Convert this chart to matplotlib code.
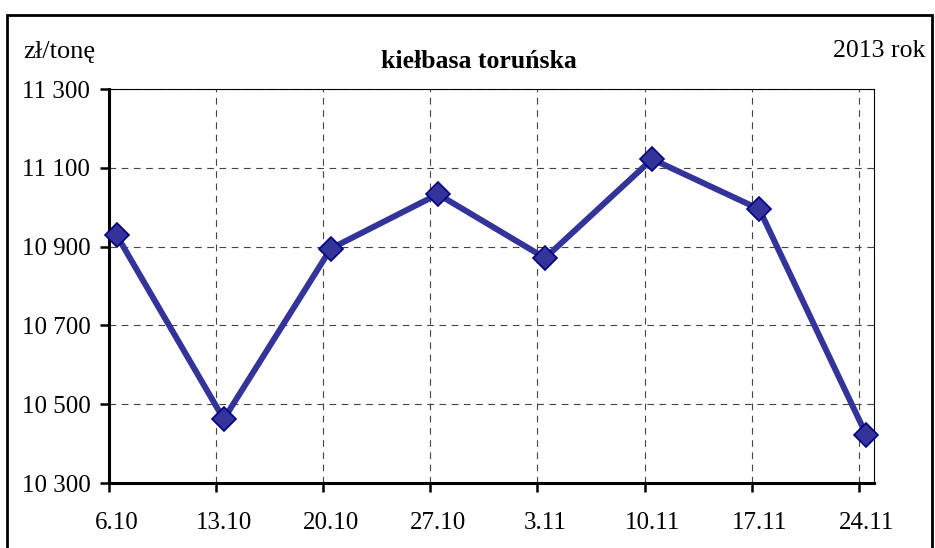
import numpy as np
import matplotlib.pyplot as plt
from matplotlib.patches import Rectangle
from matplotlib.ticker import FixedLocator, FuncFormatter

plt.rcParams['font.family'] = ['Liberation Serif', 'DejaVu Serif']

# weekly prices, zł/tonę, 2013
dates = ['6.10', '13.10', '20.10', '27.10', '3.11', '10.11', '17.11', '24.11']
day_offsets = [0, 7, 14, 21, 28, 35, 42, 49]   # days since 6.10
prices = [10929, 10462, 10895, 11033, 10871, 11122, 10995, 10422]

y_ticks = [10300, 10500, 10700, 10900, 11100, 11300]

fig = plt.figure(figsize=(9.35, 5.48), dpi=100)
ax = fig.add_axes([109 / 935, 1 - 483 / 548, 765 / 935, 394 / 548])

x_pts = np.array(day_offsets) + 0.5   # points sit mid-day on date axis
ax.plot(x_pts, prices, color='#333399', lw=4.3, marker='D', ms=12,
        mfc='#333399', mec='#000080', mew=1.2, zorder=3, clip_on=False)

ax.set_xlim(0, 50)
ax.set_ylim(y_ticks[0], y_ticks[-1])

ax.set_yticks(y_ticks)
ax.yaxis.set_major_formatter(FuncFormatter(lambda v, p: f'{int(v):,}'.replace(',', ' ')))

ax.xaxis.set_major_locator(FixedLocator(day_offsets))
ax.xaxis.set_major_formatter(FuncFormatter(lambda v, p: ''))
ax.xaxis.set_minor_locator(FixedLocator(list(x_pts)))
ax.set_xticklabels(dates, minor=True)

ax.tick_params(axis='y', which='major', direction='out', length=6.5, width=1.8,
               labelsize=18, pad=7)
ax.tick_params(axis='x', which='major', direction='out', length=6.5, width=1.8)
ax.tick_params(axis='x', which='minor', length=0, labelsize=18, pad=21)

ax.grid(True, which='major', color='#444444', lw=0.8, ls=(0, (6, 5)))
ax.set_axisbelow(True)

for s in ['left', 'bottom']:
    ax.spines[s].set_linewidth(2.2)
for s in ['top', 'right']:
    ax.spines[s].set_linewidth(0.8)

fig.text(23 / 935, 1 - 52 / 548, 'zł/tonę', fontsize=19, ha='left', va='center')
fig.text(479 / 935, 1 - 61 / 548, 'kiełbasa toruńska', fontsize=18.5,
         fontweight='bold', ha='center', va='center')
fig.text(925 / 935, 1 - 51 / 548, '2013 rok', fontsize=18.5, ha='right', va='center')

# outer chart frame (bottom edge falls outside the image)
fig.patches.append(Rectangle((7 / 935, -0.1), 925 / 935, 1.1 - 15 / 548,
                             transform=fig.transFigure, fill=False,
                             lw=2.0, ec='black'))

fig.savefig('out.png', dpi=100)
